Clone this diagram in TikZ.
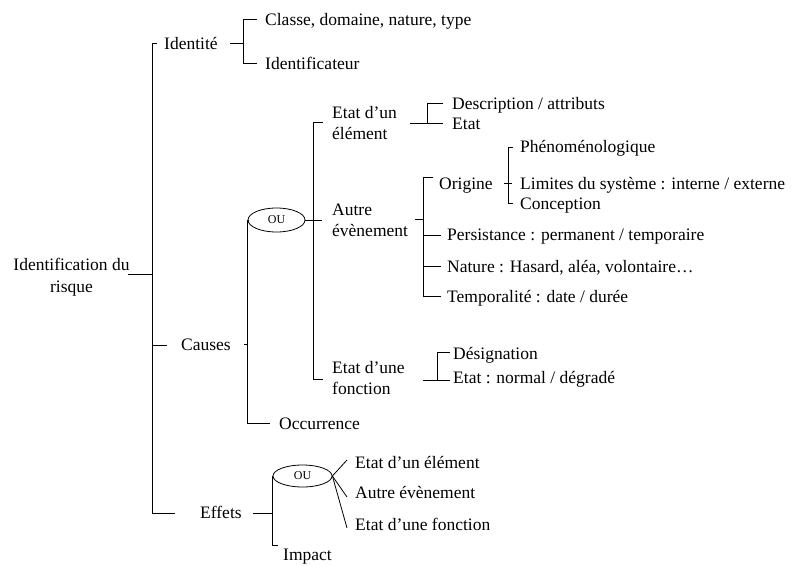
\documentclass[tikz,border=0pt]{standalone}
\usepackage{fontspec}
\setmainfont{Liberation Serif}
\usetikzlibrary{shapes.geometric}
\begin{document}
\begin{tikzpicture}[x=1pt,y=-1pt,
  lbl/.style={anchor=base west, inner sep=0pt, font=\fontsize{17.5}{21}\selectfont},
  ln/.style={line width=0.8pt},
  oubox/.style={ellipse, draw, line width=0.8pt, minimum width=57pt, minimum height=24pt, inner sep=0pt, font=\fontsize{12}{14}\selectfont}]
\useasboundingbox (0,0) rectangle (792,565);

% ---------- texts ----------
\node[lbl, anchor=base, font=\fontsize{17.5}{22}\selectfont] (root) at (71.5,270.7)
  {\begin{tabular}[t]{@{}c@{}}Identification du\\risque\end{tabular}};
\node[lbl] (ident)   at (164,49.3) {Identité};
\node[lbl] (classe)  at (265,25)   {Classe, domaine, nature, type};
\node[lbl] (identif) at (265,69)   {Identificateur};
\node[lbl] (causes)  at (181,350.7) {Causes};
\node[lbl] (occ)     at (279,429)  {Occurrence};
\node[lbl] (effets)  at (200,518)  {Effets};
\node[lbl] (impact)  at (283,560)  {Impact};

\node[lbl] (etatelem) at (332,118) {\begin{tabular}[t]{@{}l@{}}Etat d’un\\élément\end{tabular}};
\node[lbl] (autre)    at (332,215) {\begin{tabular}[t]{@{}l@{}}Autre\\évènement\end{tabular}};
\node[lbl] (etatfonc) at (332,373) {\begin{tabular}[t]{@{}l@{}}Etat d’une\\fonction\end{tabular}};

\node[lbl] (desc)    at (452,109.3) {Description / attributs};
\node[lbl] (etatA)   at (452,129.5) {Etat};
\node[lbl] (origine) at (439,189)   {Origine};
\node[lbl] (persist) at (447,240.5) {Persistance : permanent / temporaire};
\node[lbl] (nature)  at (447,272)   {Nature : Hasard, aléa, volontaire…};
\node[lbl] (tempo)   at (447,302)   {Temporalité : date / durée};
\node[lbl] (pheno)   at (520,152.7) {Phénoménologique};
\node[lbl] (limites) at (520,189)   {Limites du système : interne / externe};
\node[lbl] (concep)  at (520,209)   {Conception};
\node[lbl] (design)  at (453,359)   {Désignation};
\node[lbl] (etatB)   at (453,383)   {Etat : normal / dégradé};

\node[lbl] (eA) at (355,468) {Etat d’un élément};
\node[lbl] (eB) at (355,498) {Autre évènement};
\node[lbl] (eC) at (355,530) {Etat d’une fonction};

\node[oubox] (ou1) at (276.5,220) {OU};
\node[oubox, minimum width=59pt, minimum height=22pt] (ou2) at (302.5,476) {OU};

% ---------- junction coordinates ----------
\coordinate (rootE) at (128,274);
\coordinate (sT) at (152,43);
\coordinate (sR) at (152,274);
\coordinate (sC) at (152,345);
\coordinate (sB) at (152,513);
\coordinate (identT) at (157,43);
\coordinate (causesT) at (167,345);
\coordinate (effetsT) at (175,513);

\coordinate (iA) at (230,43);   \coordinate (iJ) at (243,43);
\coordinate (iT) at (243,19);   \coordinate (iB) at (243,63);
\coordinate (iTe) at (257,19);  \coordinate (iBe) at (257,63);

\coordinate (cA) at (244,344);  \coordinate (cJ) at (247.5,344);
\coordinate (cT) at (247.5,220); \coordinate (cB) at (247.5,423);
\coordinate (occT) at (270,423);

\coordinate (oA) at (313,220);  \coordinate (oAe) at (322,220);
\coordinate (oT) at (313,122);  \coordinate (oB) at (313,379);
\coordinate (oTe) at (323,122); \coordinate (oBe) at (323,379);

\coordinate (dA) at (410,123);  \coordinate (dJ) at (427,123);
\coordinate (dT) at (427,103);  \coordinate (dTe) at (443,103);
\coordinate (dBe) at (443,123);

\coordinate (aA) at (415,219);  \coordinate (aJ) at (423,219);
\coordinate (aT) at (423,177);  \coordinate (aTe) at (433,177);
\coordinate (aP) at (423,235);  \coordinate (aPe) at (441,235);
\coordinate (aN) at (423,266.5); \coordinate (aNe) at (441,266.5);
\coordinate (aB) at (423,296);  \coordinate (aBe) at (441,296);

\coordinate (gA) at (504,183);  \coordinate (gAe) at (512,183);
\coordinate (gT) at (508,147);  \coordinate (gTe) at (513,147);
\coordinate (gB) at (508,203);  \coordinate (gBe) at (513,203);

\coordinate (fA) at (423,380);  \coordinate (fJ) at (437,380);
\coordinate (fT) at (437,352);  \coordinate (fTe) at (450,352);
\coordinate (fBe) at (450,380);

\coordinate (eA0) at (253,513); \coordinate (eJ) at (272,513);
\coordinate (eT) at (272,476);  \coordinate (eBot) at (272,545);
\coordinate (impT) at (278,545);
\coordinate (l1) at (347,460);  \coordinate (l2) at (347,497); \coordinate (l3) at (347,528);

% ---------- connectors ----------
\draw[ln] (rootE) -- (sR);
\draw[ln] (identT) -- (sT) -- (sB) -- (effetsT);
\draw[ln] (sC) -- (causesT);

\draw[ln] (iA) -- (iJ);
\draw[ln] (iTe) -- (iT) -- (iB) -- (iBe);

\draw[ln] (cA) -- (cJ);
\draw[ln] (ou1.west) -- (cT) -- (cB) -- (occT);
\draw[ln] (ou1.east) -- (oAe);
\draw[ln] (oTe) -- (oT) -- (oB) -- (oBe);

\draw[ln] (dA) -- (dJ);
\draw[ln] (dTe) -- (dT) -- (dJ) -- (dBe);

\draw[ln] (aA) -- (aJ);
\draw[ln] (aTe) -- (aT) -- (aB) -- (aBe);
\draw[ln] (aP) -- (aPe);
\draw[ln] (aN) -- (aNe);

\draw[ln] (gA) -- (gAe);
\draw[ln] (gTe) -- (gT) -- (gB) -- (gBe);

\draw[ln] (fA) -- (fBe);
\draw[ln] (fTe) -- (fT) -- (fJ);

\draw[ln] (eA0) -- (eJ);
\draw[ln] (ou2.west) -- (eT) -- (eBot) -- (impT);
\draw[ln] (ou2.east) -- (l1);
\draw[ln] (ou2.east) -- (l2);
\draw[ln] (ou2.east) -- (l3);
\end{tikzpicture}
\end{document}
